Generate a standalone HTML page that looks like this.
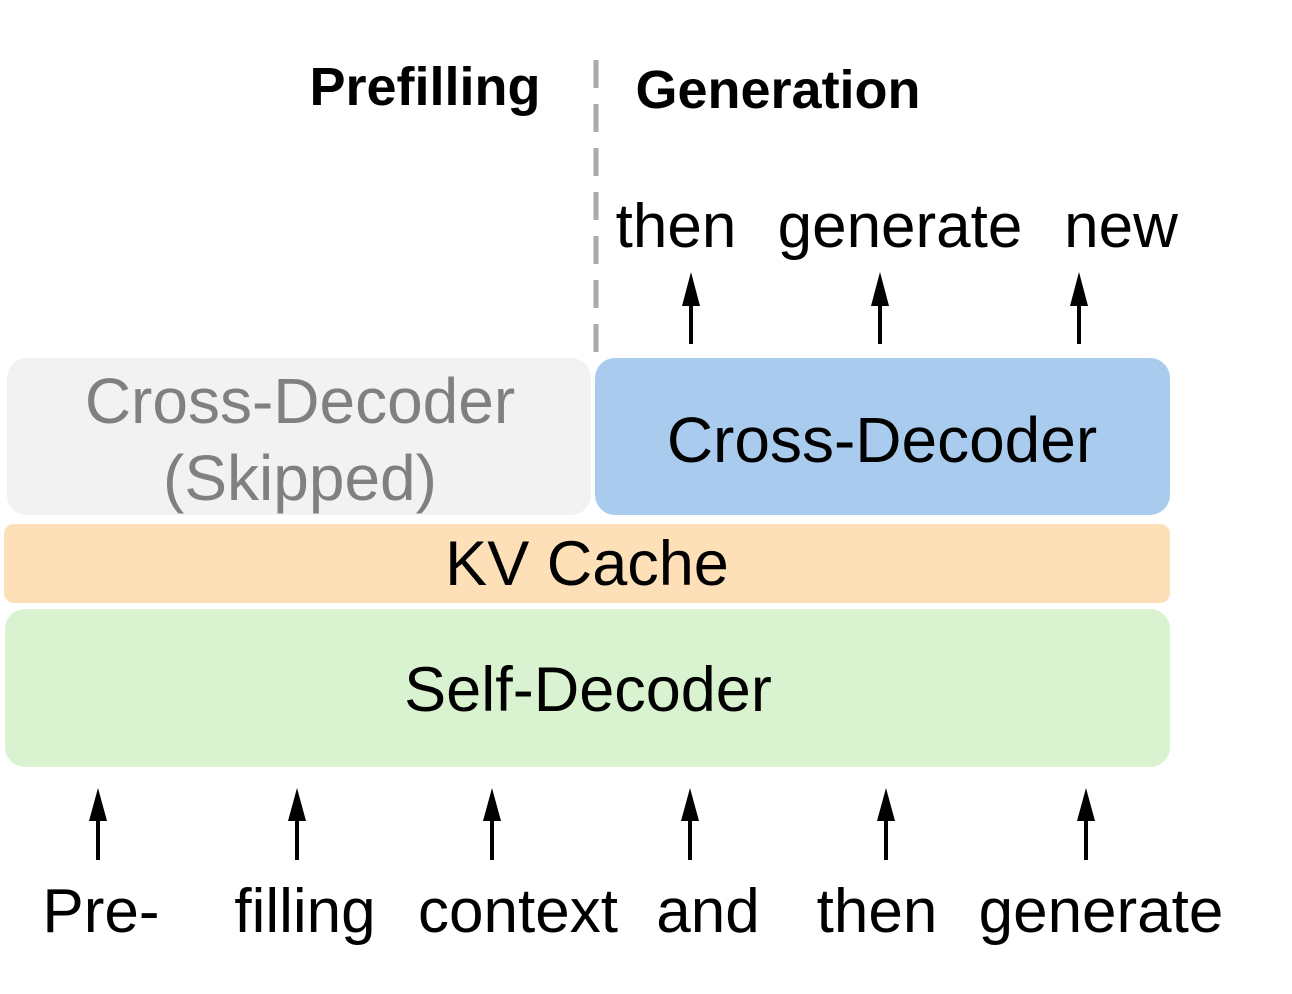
<!DOCTYPE html>
<html><head><meta charset="utf-8"><style>
html,body{margin:0;padding:0;background:#fff;}
svg{display:block;}
text{font-family:"Liberation Sans",Arial,sans-serif;}
</style></head><body>
<svg width="1292" height="994" viewBox="0 0 1292 994" xmlns="http://www.w3.org/2000/svg">
<text x="425" y="105" font-size="54" font-weight="bold" text-anchor="middle">Prefilling</text>
<text x="778" y="108" font-size="54" font-weight="bold" text-anchor="middle">Generation</text>
<line x1="596" y1="60" x2="596" y2="356" stroke="#aaaaaa" stroke-width="5" stroke-dasharray="28,16"/>
<g font-size="62" text-anchor="middle">
<text x="676" y="247">then</text>
<text x="900" y="247">generate</text>
<text x="1121" y="247">new</text>
</g>
<g fill="#000">
<rect x="689" y="305" width="4" height="39"/><polygon points="691,272 682,306 700,306"/>
<rect x="878" y="305" width="4" height="39"/><polygon points="880,272 871,306 889,306"/>
<rect x="1077" y="305" width="4" height="39"/><polygon points="1079,272 1070,306 1088,306"/>
</g>
<rect x="7" y="358" width="584" height="157" rx="20" fill="#f2f2f2"/>
<text x="300" y="423" font-size="64" fill="#808080" text-anchor="middle">Cross-Decoder</text>
<text x="300" y="500" font-size="64" fill="#808080" text-anchor="middle">(Skipped)</text>
<rect x="595" y="358" width="575" height="157" rx="20" fill="#a9cbed"/>
<text x="882" y="462" font-size="64" text-anchor="middle">Cross-Decoder</text>
<rect x="4" y="524" width="1166" height="79" rx="10" fill="#fde0b8"/>
<text x="587" y="585" font-size="63" text-anchor="middle">KV Cache</text>
<rect x="5" y="609" width="1165" height="158" rx="20" fill="#d9f2d0"/>
<text x="588" y="711" font-size="63" text-anchor="middle">Self-Decoder</text>
<g fill="#000">
<rect x="96" y="820" width="4" height="40"/><polygon points="98,788 89,821 107,821"/>
<rect x="295" y="820" width="4" height="40"/><polygon points="297,788 288,821 306,821"/>
<rect x="490" y="820" width="4" height="40"/><polygon points="492,788 483,821 501,821"/>
<rect x="688" y="820" width="4" height="40"/><polygon points="690,788 681,821 699,821"/>
<rect x="884" y="820" width="4" height="40"/><polygon points="886,788 877,821 895,821"/>
<rect x="1084" y="820" width="4" height="40"/><polygon points="1086,788 1077,821 1095,821"/>
</g>
<g font-size="62" text-anchor="middle">
<text x="101" y="932">Pre-</text>
<text x="305" y="932">filling</text>
<text x="518" y="932">context</text>
<text x="708" y="932">and</text>
<text x="877" y="932">then</text>
<text x="1101" y="932">generate</text>
</g>
</svg>
</body></html>
